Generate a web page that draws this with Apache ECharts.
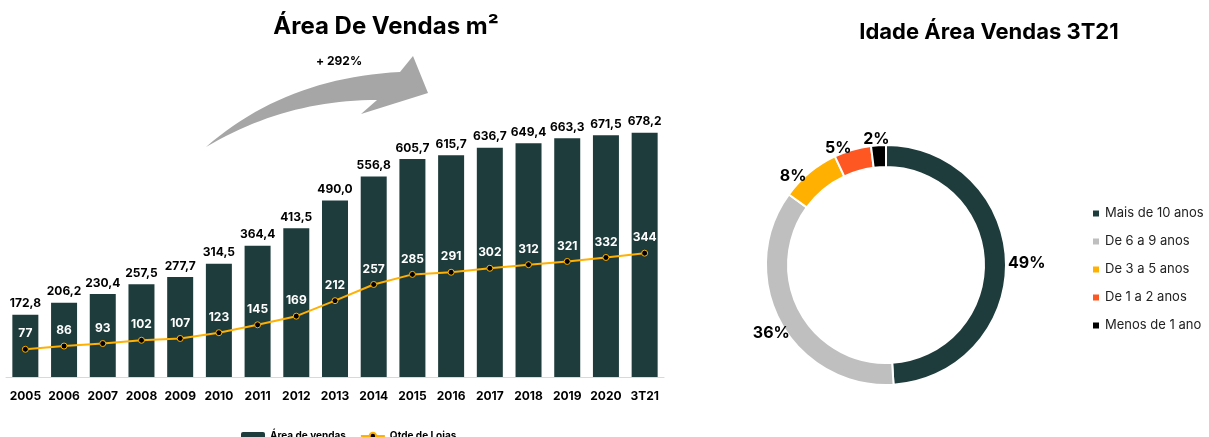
<!DOCTYPE html>
<html>
<head>
<meta charset="utf-8">
<script src="https://cdn.jsdelivr.net/npm/echarts@6/dist/echarts.min.js"></script>
<style>
  html, body { margin: 0; padding: 0; background: #fff; }
  #chart { width: 1209px; height: 437px; }
</style>
</head>
<body>
<div id="chart"></div>
<script>
const years = ['2005', '2006', '2007', '2008', '2009', '2010', '2011', '2012', '2013', '2014', '2015', '2016', '2017', '2018', '2019', '2020', '3T21']
const areaVendas = [172.8, 206.2, 230.4, 257.5, 277.7, 314.5, 364.4, 413.5, 490.0, 556.8, 605.7, 615.7, 636.7, 649.4, 663.3, 671.5, 678.2]
const qtdeLojas = [77, 86, 93, 102, 107, 123, 145, 169, 212, 257, 285, 291, 302, 312, 321, 332, 344]

const idadeNomes = ['Mais de 10 anos', 'De 6 a 9 anos', 'De 3 a 5 anos', 'De 1 a 2 anos', 'Menos de 1 ano']
const idadeValores = [49, 36, 8, 5, 2]
const idadeCores = ['#1f3c3c', '#bfbfbf', '#ffb000', '#ff5722', '#000000']

const font = 'Inter, "Noto Sans", sans-serif'
const chart = echarts.init(document.getElementById('chart'))

const fmt = v => v.toFixed(1).replace('.', ',')

// curved decorative arrow, sampled from two quadratic curves
function quad(p0, c, p1, n) {
  const pts = []
  for (let i = 0; i <= n; i++) {
    const t = i / n
    pts.push([
      (1 - t) * (1 - t) * p0[0] + 2 * (1 - t) * t * c[0] + t * t * p1[0],
      (1 - t) * (1 - t) * p0[1] + 2 * (1 - t) * t * c[1] + t * t * p1[1]
    ])
  }
  return pts
}
const arrowPts = [].concat(
  quad([206, 147], [285, 78], [400, 72], 24),
  [[413, 56], [428, 93], [361, 114]],
  quad([377, 100], [285, 100], [206, 147], 24)
)

// small label nudges so the top slices don't collide
const labelOffsets = [[-3, 2], [14, 10], [2, 4], [4, -2], [16, -6]]

chart.setOption({
  backgroundColor: '#fff',
  textStyle: { fontFamily: font },
  title: [
    {
      text: 'Área De Vendas m²',
      left: 381, top: 10, textAlign: 'center',
      textStyle: { fontSize: 24, fontWeight: 'bold', color: '#000', fontFamily: font }
    },
    {
      text: 'Idade Área Vendas 3T21',
      left: 984, top: 16, textAlign: 'center',
      textStyle: { fontSize: 22, fontWeight: 'bold', color: '#000', fontFamily: font }
    }
  ],
  legend: [
    {
      data: ['Área de vendas', 'Qtde de Lojas'],
      left: 236, top: 426,
      itemWidth: 24, itemHeight: 8, itemGap: 14,
      textStyle: { fontSize: 10, fontWeight: 'bold', color: '#000', fontFamily: font }
    },
    {
      data: idadeNomes,
      orient: 'vertical',
      left: 1086, top: 202,
      itemWidth: 8, itemHeight: 8, itemGap: 15,
      icon: 'rect',
      textStyle: { fontSize: 13, color: '#222', fontFamily: font }
    }
  ],
  grid: { left: 6, right: 545, top: 53, height: 324 },
  xAxis: {
    type: 'category',
    data: years,
    axisTick: { show: false },
    axisLine: { lineStyle: { color: '#d9d9d9' } },
    axisLabel: { interval: 0, fontSize: 12, fontWeight: 'bold', color: '#000', margin: 13, fontFamily: font }
  },
  yAxis: { type: 'value', min: 0, max: 900, show: false },
  graphic: [
    {
      type: 'polygon',
      shape: { points: arrowPts },
      style: { fill: '#a6a6a6' }
    },
    {
      type: 'text', left: 316, top: 55,
      style: { text: '+ 292%', font: 'bold 12px ' + font, fill: '#000' }
    }
  ],
  series: [
    {
      name: 'Área de vendas',
      type: 'bar',
      data: areaVendas,
      barWidth: 26,
      itemStyle: { color: '#1f3c3c' },
      label: {
        show: true, position: 'top', distance: 5,
        formatter: p => fmt(p.value),
        fontSize: 12, fontWeight: 'bold', color: '#000', fontFamily: font
      }
    },
    {
      name: 'Qtde de Lojas',
      type: 'line',
      data: qtdeLojas,
      symbol: 'circle', symbolSize: 6,
      lineStyle: { color: '#ffb000', width: 2 },
      itemStyle: { color: '#000', borderColor: '#ffb000', borderWidth: 1 },
      label: {
        show: true, position: 'top', distance: 6,
        fontSize: 12, fontWeight: 'bold', color: '#fff', fontFamily: font
      },
      z: 5
    },
    {
      name: 'Idade',
      type: 'pie',
      center: [886, 265],
      radius: [98, 120],
      startAngle: 90,
      clockwise: true,
      avoidLabelOverlap: false,
      itemStyle: { borderColor: '#fff', borderWidth: 2 },
      label: {
        show: true, position: 'outside',
        formatter: '{c}%',
        fontSize: 16, fontWeight: 'bold', color: '#000', fontFamily: font
      },
      labelLine: { show: false, length: 0, length2: 0 },
      labelLayout: { hideOverlap: false },
      emphasis: { disabled: true },
      data: idadeNomes.map((n, i) => ({
        name: n,
        value: idadeValores[i],
        itemStyle: { color: idadeCores[i] },
        label: { offset: labelOffsets[i] }
      }))
    }
  ]
})
</script>
</body>
</html>
